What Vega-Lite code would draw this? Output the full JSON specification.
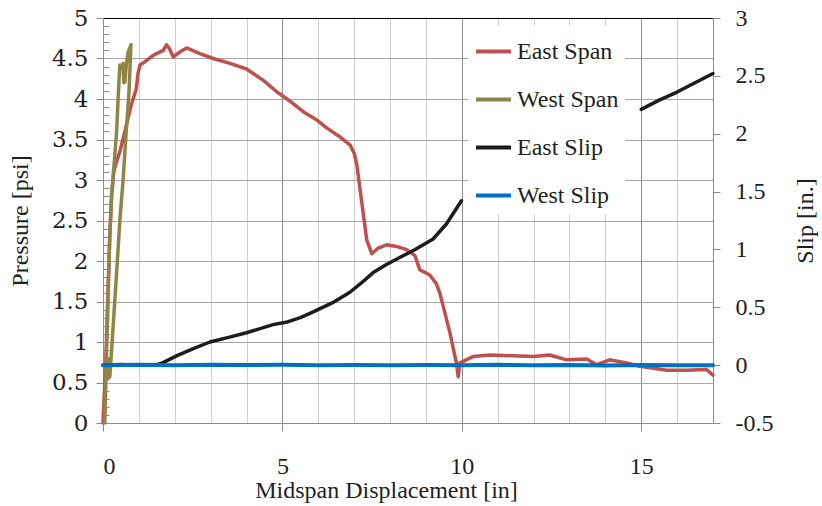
{
  "$schema": "https://vega.github.io/schema/vega-lite/v6.json",
  "width": 610,
  "height": 405,
  "autosize": {"type": "none"},
  "padding": {"left": 103, "top": 18, "right": 109, "bottom": 83},
  "background": "white",
  "config": {
    "view": {"stroke": null},
    "font": "Liberation Serif, Times New Roman, serif",
    "axis": {
      "labelFont": "Liberation Serif, Times New Roman, serif",
      "titleFont": "Liberation Serif, Times New Roman, serif",
      "labelColor": "#1f1f1f",
      "titleColor": "#1f1f1f",
      "titleFontWeight": "normal",
      "labelFontSize": 24,
      "titleFontSize": 24
    },
    "legend": {
      "labelFont": "Liberation Serif, Times New Roman, serif",
      "labelFontSize": 24,
      "labelColor": "#1f1f1f"
    }
  },
  "datasets": {
    "eastSpan": [
      {"series": "East Span", "disp": 0.0, "pressure": 0.0},
      {"series": "East Span", "disp": 0.03, "pressure": 0.3},
      {"series": "East Span", "disp": 0.08, "pressure": 0.8},
      {"series": "East Span", "disp": 0.13, "pressure": 1.5},
      {"series": "East Span", "disp": 0.18, "pressure": 2.2},
      {"series": "East Span", "disp": 0.24, "pressure": 2.8},
      {"series": "East Span", "disp": 0.3, "pressure": 3.1},
      {"series": "East Span", "disp": 0.38, "pressure": 3.23},
      {"series": "East Span", "disp": 0.47, "pressure": 3.35},
      {"series": "East Span", "disp": 0.61, "pressure": 3.6},
      {"series": "East Span", "disp": 0.79, "pressure": 3.93},
      {"series": "East Span", "disp": 0.93, "pressure": 4.13},
      {"series": "East Span", "disp": 0.97, "pressure": 4.3},
      {"series": "East Span", "disp": 1.03, "pressure": 4.42},
      {"series": "East Span", "disp": 1.17, "pressure": 4.46},
      {"series": "East Span", "disp": 1.4, "pressure": 4.54},
      {"series": "East Span", "disp": 1.68, "pressure": 4.6},
      {"series": "East Span", "disp": 1.77, "pressure": 4.67},
      {"series": "East Span", "disp": 1.85, "pressure": 4.62},
      {"series": "East Span", "disp": 1.96, "pressure": 4.52},
      {"series": "East Span", "disp": 2.14, "pressure": 4.58},
      {"series": "East Span", "disp": 2.33, "pressure": 4.63},
      {"series": "East Span", "disp": 2.7, "pressure": 4.56},
      {"series": "East Span", "disp": 3.07, "pressure": 4.5},
      {"series": "East Span", "disp": 3.54, "pressure": 4.44},
      {"series": "East Span", "disp": 4.0, "pressure": 4.37},
      {"series": "East Span", "disp": 4.47, "pressure": 4.23},
      {"series": "East Span", "disp": 4.84, "pressure": 4.09},
      {"series": "East Span", "disp": 5.22, "pressure": 3.97},
      {"series": "East Span", "disp": 5.59, "pressure": 3.84},
      {"series": "East Span", "disp": 5.96, "pressure": 3.74},
      {"series": "East Span", "disp": 6.24, "pressure": 3.64},
      {"series": "East Span", "disp": 6.61, "pressure": 3.53},
      {"series": "East Span", "disp": 6.89, "pressure": 3.43},
      {"series": "East Span", "disp": 7.0, "pressure": 3.33},
      {"series": "East Span", "disp": 7.07, "pressure": 3.2},
      {"series": "East Span", "disp": 7.35, "pressure": 2.26},
      {"series": "East Span", "disp": 7.49, "pressure": 2.09},
      {"series": "East Span", "disp": 7.67, "pressure": 2.16},
      {"series": "East Span", "disp": 7.9, "pressure": 2.2},
      {"series": "East Span", "disp": 8.18, "pressure": 2.18},
      {"series": "East Span", "disp": 8.46, "pressure": 2.14},
      {"series": "East Span", "disp": 8.69, "pressure": 2.07},
      {"series": "East Span", "disp": 8.83, "pressure": 1.89},
      {"series": "East Span", "disp": 9.1, "pressure": 1.83},
      {"series": "East Span", "disp": 9.29, "pressure": 1.72},
      {"series": "East Span", "disp": 9.39, "pressure": 1.6},
      {"series": "East Span", "disp": 9.67, "pressure": 1.11},
      {"series": "East Span", "disp": 9.85, "pressure": 0.74},
      {"series": "East Span", "disp": 9.9, "pressure": 0.57},
      {"series": "East Span", "disp": 9.94, "pressure": 0.74},
      {"series": "East Span", "disp": 10.22, "pressure": 0.8},
      {"series": "East Span", "disp": 10.31, "pressure": 0.82},
      {"series": "East Span", "disp": 10.78, "pressure": 0.84},
      {"series": "East Span", "disp": 11.43, "pressure": 0.83},
      {"series": "East Span", "disp": 11.99, "pressure": 0.82},
      {"series": "East Span", "disp": 12.45, "pressure": 0.84},
      {"series": "East Span", "disp": 12.92, "pressure": 0.78},
      {"series": "East Span", "disp": 13.48, "pressure": 0.79},
      {"series": "East Span", "disp": 13.76, "pressure": 0.72},
      {"series": "East Span", "disp": 14.12, "pressure": 0.78},
      {"series": "East Span", "disp": 14.59, "pressure": 0.74},
      {"series": "East Span", "disp": 14.97, "pressure": 0.7},
      {"series": "East Span", "disp": 15.71, "pressure": 0.65},
      {"series": "East Span", "disp": 16.26, "pressure": 0.65},
      {"series": "East Span", "disp": 16.82, "pressure": 0.66},
      {"series": "East Span", "disp": 17.0, "pressure": 0.59}
    ],
    "westSpan": [
      {"series": "West Span", "i": 0, "disp": 0.05, "pressure": 0.0},
      {"series": "West Span", "i": 1, "disp": 0.08, "pressure": 0.5},
      {"series": "West Span", "i": 2, "disp": 0.1, "pressure": 0.9},
      {"series": "West Span", "i": 3, "disp": 0.14, "pressure": 1.52},
      {"series": "West Span", "i": 4, "disp": 0.19, "pressure": 2.34},
      {"series": "West Span", "i": 5, "disp": 0.24, "pressure": 2.81},
      {"series": "West Span", "i": 6, "disp": 0.31, "pressure": 3.2},
      {"series": "West Span", "i": 7, "disp": 0.38, "pressure": 3.6},
      {"series": "West Span", "i": 8, "disp": 0.43, "pressure": 4.09},
      {"series": "West Span", "i": 9, "disp": 0.47, "pressure": 4.42},
      {"series": "West Span", "i": 10, "disp": 0.52, "pressure": 4.38},
      {"series": "West Span", "i": 11, "disp": 0.56, "pressure": 4.44},
      {"series": "West Span", "i": 12, "disp": 0.58, "pressure": 4.2},
      {"series": "West Span", "i": 13, "disp": 0.61, "pressure": 4.21},
      {"series": "West Span", "i": 14, "disp": 0.65, "pressure": 4.42},
      {"series": "West Span", "i": 15, "disp": 0.7, "pressure": 4.58},
      {"series": "West Span", "i": 16, "disp": 0.78, "pressure": 4.67},
      {"series": "West Span", "i": 17, "disp": 0.72, "pressure": 4.05},
      {"series": "West Span", "i": 18, "disp": 0.64, "pressure": 3.55},
      {"series": "West Span", "i": 19, "disp": 0.56, "pressure": 3.0},
      {"series": "West Span", "i": 20, "disp": 0.47, "pressure": 2.5},
      {"series": "West Span", "i": 21, "disp": 0.4, "pressure": 2.0},
      {"series": "West Span", "i": 22, "disp": 0.33, "pressure": 1.52},
      {"series": "West Span", "i": 23, "disp": 0.24, "pressure": 0.9},
      {"series": "West Span", "i": 24, "disp": 0.19, "pressure": 0.57},
      {"series": "West Span", "i": 25, "disp": 0.17, "pressure": 0.7},
      {"series": "West Span", "i": 26, "disp": 0.15, "pressure": 0.55},
      {"series": "West Span", "i": 27, "disp": 0.13, "pressure": 0.8},
      {"series": "West Span", "i": 28, "disp": 0.12, "pressure": 0.6}
    ],
    "eastSlip": [
      {"series": "East Slip", "seg": "a", "disp": 0.0, "slip": 0.0},
      {"series": "East Slip", "seg": "a", "disp": 0.5, "slip": 0.005},
      {"series": "East Slip", "seg": "a", "disp": 1.0, "slip": 0.0},
      {"series": "East Slip", "seg": "a", "disp": 1.5, "slip": 0.005},
      {"series": "East Slip", "seg": "a", "disp": 1.66, "slip": 0.02},
      {"series": "East Slip", "seg": "a", "disp": 2.05, "slip": 0.08},
      {"series": "East Slip", "seg": "a", "disp": 2.5, "slip": 0.14},
      {"series": "East Slip", "seg": "a", "disp": 2.98, "slip": 0.2},
      {"series": "East Slip", "seg": "a", "disp": 3.5, "slip": 0.24},
      {"series": "East Slip", "seg": "a", "disp": 4.0, "slip": 0.28},
      {"series": "East Slip", "seg": "a", "disp": 4.74, "slip": 0.35},
      {"series": "East Slip", "seg": "a", "disp": 5.1, "slip": 0.37},
      {"series": "East Slip", "seg": "a", "disp": 5.5, "slip": 0.41},
      {"series": "East Slip", "seg": "a", "disp": 5.86, "slip": 0.46},
      {"series": "East Slip", "seg": "a", "disp": 6.4, "slip": 0.54},
      {"series": "East Slip", "seg": "a", "disp": 6.88, "slip": 0.63},
      {"series": "East Slip", "seg": "a", "disp": 7.2, "slip": 0.71},
      {"series": "East Slip", "seg": "a", "disp": 7.53, "slip": 0.8},
      {"series": "East Slip", "seg": "a", "disp": 7.9, "slip": 0.87},
      {"series": "East Slip", "seg": "a", "disp": 8.27, "slip": 0.93},
      {"series": "East Slip", "seg": "a", "disp": 8.7, "slip": 1.0},
      {"series": "East Slip", "seg": "a", "disp": 9.2, "slip": 1.09},
      {"series": "East Slip", "seg": "a", "disp": 9.57, "slip": 1.22},
      {"series": "East Slip", "seg": "a", "disp": 9.99, "slip": 1.42},
      {"series": "East Slip", "seg": "b", "disp": 15.0, "slip": 2.21},
      {"series": "East Slip", "seg": "b", "disp": 15.5, "slip": 2.29},
      {"series": "East Slip", "seg": "b", "disp": 16.0, "slip": 2.36},
      {"series": "East Slip", "seg": "b", "disp": 16.5, "slip": 2.44},
      {"series": "East Slip", "seg": "b", "disp": 17.0, "slip": 2.52}
    ],
    "westSlip": [
      {"series": "West Slip", "disp": 0.0, "slip": 0.0},
      {"series": "West Slip", "disp": 1.0, "slip": 0.004},
      {"series": "West Slip", "disp": 2.0, "slip": -0.002},
      {"series": "West Slip", "disp": 3.0, "slip": 0.003},
      {"series": "West Slip", "disp": 4.0, "slip": 0.001},
      {"series": "West Slip", "disp": 5.0, "slip": 0.003},
      {"series": "West Slip", "disp": 6.0, "slip": 0.0},
      {"series": "West Slip", "disp": 7.0, "slip": 0.002},
      {"series": "West Slip", "disp": 8.0, "slip": -0.002},
      {"series": "West Slip", "disp": 9.0, "slip": 0.001},
      {"series": "West Slip", "disp": 10.0, "slip": 0.0},
      {"series": "West Slip", "disp": 11.0, "slip": 0.003},
      {"series": "West Slip", "disp": 12.0, "slip": -0.001},
      {"series": "West Slip", "disp": 13.0, "slip": 0.002},
      {"series": "West Slip", "disp": 14.0, "slip": -0.003},
      {"series": "West Slip", "disp": 15.0, "slip": 0.001},
      {"series": "West Slip", "disp": 16.0, "slip": -0.002},
      {"series": "West Slip", "disp": 17.0, "slip": 0.0}
    ]
  },
  "layer": [
    {
      "data": {"name": "eastSpan"},
      "mark": {"type": "line", "strokeWidth": 3.5, "strokeJoin": "round", "strokeCap": "round"},
      "encoding": {
        "x": {
          "field": "disp", "type": "quantitative",
          "scale": {"domain": [0, 17], "nice": false, "zero": false},
          "axis": {
            "orient": "bottom",
            "values": [0, 5, 10, 15],
            "labelExpr": "'' + datum.value",
            "grid": true, "gridColor": "#8c8c8c", "gridWidth": 1,
            "domainColor": "#8c8c8c", "tickColor": "#8c8c8c", "tickSize": 8,
            "labelPadding": 23,
            "title": "Midspan Displacement  [in]",
            "titleX": 283,
            "titlePadding": 0
          }
        },
        "y": {
          "field": "pressure", "type": "quantitative",
          "scale": {"domain": [0, 5], "nice": false, "zero": false},
          "axis": {
            "orient": "left",
            "values": [0, 0.5, 1, 1.5, 2, 2.5, 3, 3.5, 4, 4.5, 5],
            "labelExpr": "'' + datum.value",
            "labelFont": "DejaVu Serif", "labelFontSize": 23,
            "grid": true, "gridColor": "#a6a6a6", "gridWidth": 1,
            "domainColor": "#8c8c8c", "tickColor": "#8c8c8c", "tickSize": 7,
            "labelPadding": 8,
            "title": "Pressure [psi]",
            "titlePadding": 19
          }
        },
        "color": {
          "field": "series", "type": "nominal",
          "scale": {"domain": ["East Span", "West Span", "East Slip", "West Slip"], "range": ["#c0504d", "#8f8548", "#1e1b1b", "#0070c0"]},
          "legend": {
            "orient": "none", "legendX": 365, "legendY": 8,
            "title": null, "fillColor": "white", "padding": 6,
            "symbolType": "stroke", "symbolSize": 1225, "symbolStrokeWidth": 4,
            "labelFontSize": 24, "labelOffset": 4, "rowPadding": 16
          }
        }
      }
    },
    {
      "data": {"name": "westSpan"},
      "mark": {"type": "line", "strokeWidth": 3.5, "strokeJoin": "round", "strokeCap": "round"},
      "encoding": {
        "x": {
          "field": "disp", "type": "quantitative",
          "scale": {"domain": [0, 17], "nice": false, "zero": false},
          "axis": {
            "orient": "top",
            "values": [1, 2, 3, 4, 6, 7, 8, 9, 11, 12, 13, 14, 16],
            "labels": false, "ticks": false, "title": null,
            "grid": true, "gridColor": "#d0d0d0", "gridWidth": 1,
            "domain": true, "domainColor": "#000000", "domainWidth": 1
          }
        },
        "y": {
          "field": "pressure", "type": "quantitative",
          "scale": {"domain": [0, 5], "nice": false, "zero": false},
          "axis": {
            "orient": "left",
            "values": [0.1, 0.2, 0.3, 0.4, 0.6, 0.7, 0.8, 0.9, 1.1, 1.2, 1.3, 1.4, 1.6, 1.7, 1.8, 1.9, 2.1, 2.2, 2.3, 2.4, 2.6, 2.7, 2.8, 2.9, 3.1, 3.2, 3.3, 3.4, 3.6, 3.7, 3.8, 3.9, 4.1, 4.2, 4.3, 4.4, 4.6, 4.7, 4.8, 4.9],
            "labels": false, "domain": false, "grid": false, "title": null,
            "ticks": true, "tickSize": -6, "tickColor": "#8c8c8c"
          }
        },
        "order": {"field": "i", "type": "quantitative"},
        "color": {
          "field": "series", "type": "nominal",
          "scale": {"domain": ["East Span", "West Span", "East Slip", "West Slip"], "range": ["#c0504d", "#8f8548", "#1e1b1b", "#0070c0"]},
          "legend": {
            "orient": "none", "legendX": 365, "legendY": 8,
            "title": null, "fillColor": "white", "padding": 6,
            "symbolType": "stroke", "symbolSize": 1225, "symbolStrokeWidth": 4,
            "labelFontSize": 24, "labelOffset": 4, "rowPadding": 16
          }
        }
      }
    },
    {
      "data": {"name": "eastSlip"},
      "mark": {"type": "line", "strokeWidth": 3.5, "strokeJoin": "round", "strokeCap": "round"},
      "encoding": {
        "x": {
          "field": "disp", "type": "quantitative",
          "scale": {"domain": [0, 17], "nice": false, "zero": false},
          "axis": null
        },
        "y": {
          "field": "slip", "type": "quantitative",
          "scale": {"domain": [-0.5, 3], "nice": false, "zero": false},
          "axis": {
            "orient": "right",
            "values": [-0.5, 0, 0.5, 1, 1.5, 2, 2.5, 3],
            "labelExpr": "'' + datum.value",
            "grid": false,
            "domain": true,
            "domainColor": "#8c8c8c", "tickColor": "#8c8c8c", "tickSize": 7,
            "labelPadding": 15,
            "title": "Slip [in.]",
            "titleAngle": 270,
            "titlePadding": 45
          }
        },
        "detail": {"field": "seg", "type": "nominal"},
        "color": {
          "field": "series", "type": "nominal",
          "scale": {"domain": ["East Span", "West Span", "East Slip", "West Slip"], "range": ["#c0504d", "#8f8548", "#1e1b1b", "#0070c0"]},
          "legend": {
            "orient": "none", "legendX": 365, "legendY": 8,
            "title": null, "fillColor": "white", "padding": 6,
            "symbolType": "stroke", "symbolSize": 1225, "symbolStrokeWidth": 4,
            "labelFontSize": 24, "labelOffset": 4, "rowPadding": 16
          }
        }
      }
    },
    {
      "data": {"name": "westSlip"},
      "mark": {"type": "line", "strokeWidth": 4, "strokeJoin": "round", "strokeCap": "round"},
      "encoding": {
        "x": {
          "field": "disp", "type": "quantitative",
          "scale": {"domain": [0, 17], "nice": false, "zero": false},
          "axis": null
        },
        "y": {
          "field": "slip", "type": "quantitative",
          "scale": {"domain": [-0.5, 3], "nice": false, "zero": false},
          "axis": null
        },
        "color": {
          "field": "series", "type": "nominal",
          "scale": {"domain": ["East Span", "West Span", "East Slip", "West Slip"], "range": ["#c0504d", "#8f8548", "#1e1b1b", "#0070c0"]},
          "legend": {
            "orient": "none", "legendX": 365, "legendY": 8,
            "title": null, "fillColor": "white", "padding": 6,
            "symbolType": "stroke", "symbolSize": 1225, "symbolStrokeWidth": 4,
            "labelFontSize": 24, "labelOffset": 4, "rowPadding": 16
          }
        }
      }
    }
  ],
  "resolve": {"scale": {"y": "independent"}, "axis": {"x": "independent", "y": "independent"}}
}
